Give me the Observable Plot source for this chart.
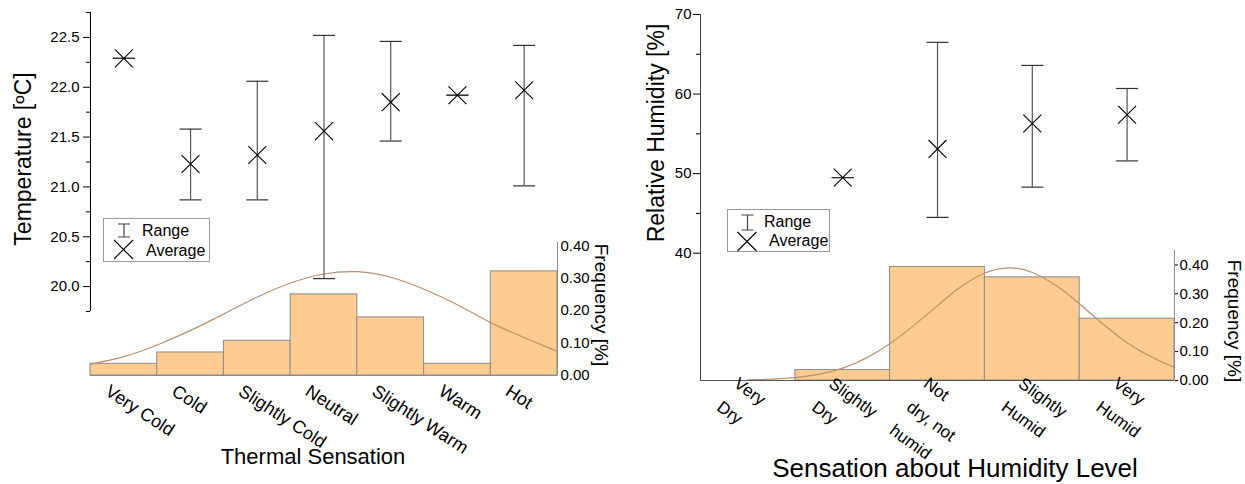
<!DOCTYPE html>
<html><head><meta charset="utf-8">
<script src="https://cdn.jsdelivr.net/npm/d3@7"></script>
<script src="https://cdn.jsdelivr.net/npm/@observablehq/plot@0.6"></script>
<style>
body{margin:0;background:#fff;font-family:"Liberation Sans",Arial,sans-serif;}
#wrap{position:relative;width:1245px;height:484px;overflow:hidden;background:#fff;}
.layer{position:absolute;left:0;}
.t{position:absolute;white-space:nowrap;color:#000;line-height:1;transform-origin:50% 50%;}
.legend{position:absolute;}
</style></head><body><div id="wrap"></div>
<script>
// ---------- data: left panel (thermal sensation) ----------
const tempCategories = ["Very Cold", "Cold", "Slightly Cold", "Neutral", "Slightly Warm", "Warm", "Hot"];
const tempAverage = [22.29, 21.23, 21.32, 21.56, 21.85, 21.92, 21.97];
const tempMin     = [22.29, 20.87, 20.87, 20.08, 21.46, 21.92, 21.01];
const tempMax     = [22.29, 21.58, 22.06, 22.52, 22.46, 21.92, 22.42];
const tempFrequency = [0.036, 0.071, 0.107, 0.250, 0.179, 0.036, 0.321];
const tempCurveX = [0, 0.5, 1, 1.5, 2, 2.5, 3, 3.5, 4, 4.5, 5, 5.5, 6, 6.5, 7];
const tempCurveY = [0.035, 0.058, 0.094, 0.139, 0.19, 0.242, 0.285, 0.313, 0.32, 0.303, 0.266, 0.218, 0.163, 0.117, 0.074];
const tempMajorTicks = [20.0, 20.5, 21.0, 21.5, 22.0, 22.5];
const tempMinorTicks = [19.75, 20.25, 20.75, 21.25, 21.75, 22.25, 22.75];

// ---------- data: right panel (humidity sensation) ----------
const humCategories = ["Very\nDry", "Slightly\nDry", "Not\ndry, not\nhumid", "Slightly\nHumid", "Very\nHumid"];
const humAverage = [null, 49.5, 53.1, 56.3, 57.4];
const humMin     = [null, 49.5, 44.5, 48.3, 51.6];
const humMax     = [null, 49.5, 66.5, 63.6, 60.7];
const humFrequency = [0, 0.036, 0.393, 0.357, 0.214];
const humCurveX = [0.5, 1, 1.5, 2, 2.5, 2.75, 3, 3.25, 3.5, 3.75, 4, 4.5, 5];
const humCurveY = [0.002, 0.01, 0.043, 0.128, 0.259, 0.325, 0.372, 0.39, 0.374, 0.329, 0.265, 0.131, 0.045];
const humMajorTicks = [40, 50, 60, 70];
const humMinorTicks = [45, 55, 65];

const freqTicks = [0, 0.1, 0.2, 0.3, 0.4];

// ---------- tables ----------
const tempRows = tempCategories.map((c, i) => ({cat: c, x: i + 0.5, x1: i, x2: i + 1,
  avg: tempAverage[i], min: tempMin[i], max: tempMax[i], freq: tempFrequency[i]}));
const tempCurve = tempCurveX.map((x, i) => ({x, y: tempCurveY[i]}));
const humRows = humCategories.map((c, i) => ({cat: c, x: i + 0.5, x1: i, x2: i + 1,
  avg: humAverage[i], min: humMin[i], max: humMax[i], freq: humFrequency[i]}));
const humStats = humRows.filter(d => d.avg != null);
const humCurve = humCurveX.map((x, i) => ({x, y: humCurveY[i]}));

// ---------- styles ----------
const FONT = "'Liberation Sans', Arial, sans-serif";
const BAR = "#fecb91";
const BAR_STROKE = "#8c8c8c";
const CURVE = "#bb9170";
const cap = {draw(ctx) { ctx.moveTo(-11, 0); ctx.lineTo(11, 0); }};
const baseStyle = {background: "transparent", fontFamily: FONT, fontSize: "15px", color: "#000", overflow: "visible"};

const wrap = document.getElementById("wrap");
function place(node, top) {
  const d = document.createElement("div");
  d.className = "layer";
  d.style.top = top + "px";
  d.appendChild(node);
  wrap.appendChild(d);
}

// ---------- left panel: frequency histogram ----------
place(Plot.plot({
  width: 1245, height: 254,
  marginLeft: 90, marginRight: 688, marginTop: 12, marginBottom: 109,
  x: {domain: [0, 7], axis: null},
  y: {domain: [0, 0.41]},
  style: baseStyle,
  marks: [
    Plot.rect(tempRows, {x1: "x1", x2: "x2", y1: 0, y2: "freq", fill: BAR, stroke: BAR_STROKE, strokeWidth: 1}),
    Plot.line(tempCurve, {x: "x", y: "y", stroke: CURVE, strokeWidth: 1.2, curve: "natural"}),
    Plot.ruleY([0], {stroke: BAR_STROKE}),
    Plot.ruleX([7], {stroke: BAR_STROKE}),
    Plot.axisY({anchor: "right", ticks: freqTicks, tickSize: 0, tickPadding: 3, tickFormat: d3.format(".2f"), fontSize: 15, label: null}),
    Plot.text(tempRows, {x: "x", text: "cat", frameAnchor: "bottom", rotate: 33, textAnchor: "start", lineAnchor: "top", dx: -13, dy: 8, fontSize: 18})
  ]
}), 230);

// ---------- left panel: temperature ----------
place(Plot.plot({
  width: 1245, height: 311,
  marginLeft: 90, marginRight: 688, marginTop: 12, marginBottom: 0,
  x: {domain: [0, 7], axis: null},
  y: {domain: [19.75, 22.75]},
  style: baseStyle,
  marks: [
    Plot.ruleX([0], {stroke: "#000"}),
    Plot.axisY({ticks: tempMajorTicks, tickSize: 7, tickPadding: 4, tickFormat: d3.format(".1f"), fontSize: 15, label: null}),
    Plot.axisY({ticks: tempMinorTicks, tickSize: 4, tickFormat: () => "", label: null}),
    Plot.ruleX(tempRows, {x: "x", y1: "min", y2: "max", stroke: "#555", strokeWidth: 1.2}),
    Plot.dot(tempRows, {x: "x", y: "min", symbol: cap, r: 5, fill: "none", stroke: "#333", strokeWidth: 1.2}),
    Plot.dot(tempRows, {x: "x", y: "max", symbol: cap, r: 5, fill: "none", stroke: "#333", strokeWidth: 1.2}),
    Plot.dot(tempRows, {x: "x", y: "avg", symbol: "times", r: 8.2, stroke: "#000", strokeWidth: 1.1})
  ]
}), 0);

// ---------- right panel: frequency histogram ----------
place(Plot.plot({
  width: 1245, height: 244,
  marginLeft: 700, marginRight: 71, marginTop: 10, marginBottom: 104,
  x: {domain: [0, 5], axis: null},
  y: {domain: [0, 0.45]},
  style: baseStyle,
  marks: [
    Plot.rect(humRows, {x1: "x1", x2: "x2", y1: 0, y2: "freq", fill: BAR, stroke: BAR_STROKE, strokeWidth: 1}),
    Plot.line(humCurve, {x: "x", y: "y", stroke: CURVE, strokeWidth: 1.2, curve: "natural"}),
    Plot.ruleY([0], {stroke: "#555"}),
    Plot.ruleX([5], {stroke: BAR_STROKE}),
    Plot.axisY({anchor: "right", ticks: freqTicks, tickSize: 3, tickPadding: 2, tickFormat: d3.format(".2f"), fontSize: 15, label: null}),
    Plot.text(humRows, {x: "x", text: "cat", frameAnchor: "bottom", rotate: 36, textAnchor: "start", lineAnchor: "top", lineHeight: 1.7, dx: -3, dy: -11, fontSize: 17})
  ]
}), 240);

// ---------- right panel: relative humidity ----------
place(Plot.plot({
  width: 1245, height: 380,
  marginLeft: 700, marginRight: 71, marginTop: 14, marginBottom: 0,
  x: {domain: [0, 5], axis: null},
  y: {domain: [24, 70]},
  style: baseStyle,
  marks: [
    Plot.ruleX([0], {stroke: "#444"}),
    Plot.axisY({ticks: humMajorTicks, tickSize: 7, tickPadding: 2, tickFormat: d3.format("d"), fontSize: 15, label: null}),
    Plot.axisY({ticks: humMinorTicks, tickSize: 4, tickFormat: () => "", label: null}),
    Plot.ruleX(humStats, {x: "x", y1: "min", y2: "max", stroke: "#555", strokeWidth: 1.2}),
    Plot.dot(humStats, {x: "x", y: "min", symbol: cap, r: 5, fill: "none", stroke: "#333", strokeWidth: 1.2}),
    Plot.dot(humStats, {x: "x", y: "max", symbol: cap, r: 5, fill: "none", stroke: "#333", strokeWidth: 1.2}),
    Plot.dot(humStats, {x: "x", y: "avg", symbol: "times", r: 8.2, stroke: "#000", strokeWidth: 1.1})
  ]
}), 0);

// ---------- axis titles ----------
function title(text, cx, cy, size, rot) {
  const d = document.createElement("div");
  d.className = "t";
  d.textContent = text;
  d.style.fontSize = size + "px";
  d.style.left = cx + "px";
  d.style.top = cy + "px";
  d.style.transform = `translate(-50%,-50%) rotate(${rot}deg)`;
  wrap.appendChild(d);
}
title("Temperature [ºC]", 23, 159, 23, -90);
title("Thermal Sensation", 313, 457, 22, 0);
title("Frequency [%]", 601, 305, 19, 90);
title("Relative Humidity [%]", 656, 133, 23, -90);
title("Sensation about Humidity Level", 955, 468, 26, 0);
title("Frequency [%]", 1234, 321, 19, 90);

// ---------- legends ----------
function legend(left, top, w, h, o) {
  const ns = "http://www.w3.org/2000/svg";
  const svg = document.createElementNS(ns, "svg");
  svg.setAttribute("width", w); svg.setAttribute("height", h);
  svg.setAttribute("class", "legend");
  svg.style.left = left + "px"; svg.style.top = top + "px";
  svg.style.fontFamily = FONT;
  const add = (tag, attrs, txt) => {
    const e = document.createElementNS(ns, tag);
    for (const k in attrs) e.setAttribute(k, attrs[k]);
    if (txt) e.textContent = txt;
    svg.appendChild(e);
  };
  add("rect", {x: 0.5, y: 0.5, width: w - 1, height: h - 1, fill: "#fff", stroke: "#9a9a9a"});
  const ix = o.ix, iy1 = o.iy1, iy2 = o.iy2;
  add("path", {d: `M${ix - 6},${iy1}H${ix + 6}M${ix},${iy1}V${iy2}M${ix - 6},${iy2}H${ix + 6}`, stroke: "#444", "stroke-width": 1.2, fill: "none"});
  add("text", {x: o.rx, y: o.ry, "font-size": 16, "dominant-baseline": "central"}, "Range");
  const s = o.xs;
  add("path", {d: `M${o.xx - s},${o.xy - s}L${o.xx + s},${o.xy + s}M${o.xx - s},${o.xy + s}L${o.xx + s},${o.xy - s}`, stroke: "#000", "stroke-width": 1.1, fill: "none"});
  add("text", {x: o.ax, y: o.ay, "font-size": 16, "dominant-baseline": "central"}, "Average");
  wrap.appendChild(svg);
}
legend(103, 218, 107, 44, {ix: 21, iy1: 6, iy2: 19, rx: 39, ry: 12, xx: 20.5, xy: 31.5, xs: 9.5, ax: 43, ay: 32});
legend(727, 209, 103, 43, {ix: 20.5, iy1: 6, iy2: 21, rx: 37, ry: 12, xx: 20, xy: 32.5, xs: 9.5, ax: 42, ay: 31});
</script>
</body></html>
